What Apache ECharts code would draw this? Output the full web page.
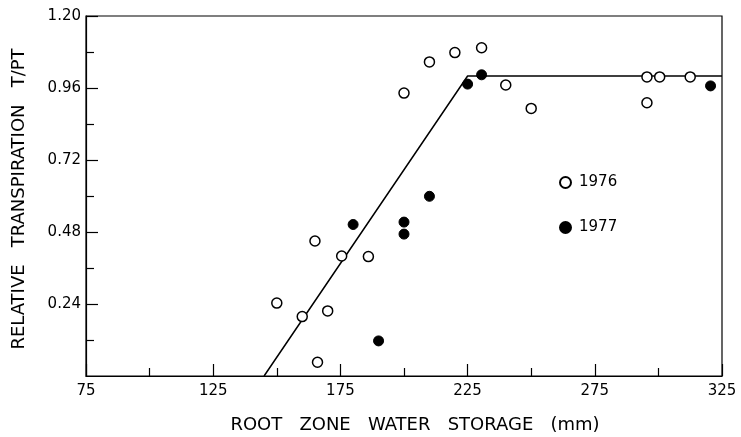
<!DOCTYPE html>
<html>
<head>
<meta charset="utf-8">
<script src="https://cdn.jsdelivr.net/npm/echarts@6/dist/echarts.min.js"></script>
<style>html,body{margin:0;padding:0;background:#fff}#c{width:741px;height:437px}</style>
</head>
<body>
<div id="c"></div>
<script>
var xLabels = [75, 125, 175, 225, 275, 325];
var xMinorTicks = [100, 150, 200, 250, 300];
var yLabels = [0.24, 0.48, 0.72, 0.96, 1.20];
var yMinorTicks = [0.12, 0.36, 0.60, 0.84, 1.08];

var data1976 = [
  [150, 0.243], [160, 0.198], [165, 0.450], [166, 0.046], [170, 0.217],
  [175.5, 0.400], [186, 0.398], [200, 0.943], [210, 1.047], [220, 1.078],
  [230.5, 1.094], [240, 0.970], [250, 0.892], [295.5, 0.997], [300.5, 0.997],
  [312.5, 0.997], [295.5, 0.911]
];
var data1977 = [
  [180, 0.505], [190, 0.117], [200, 0.513], [200, 0.473], [210, 0.599],
  [225, 0.973], [230.5, 1.004], [320.5, 0.967]
];
var fitLine = [[145, 0], [225, 1.0], [325, 1.0]];

var font = 'DejaVu Sans';
var chart = echarts.init(document.getElementById('c'));
chart.setOption({
  animation: false,
  backgroundColor: '#fff',
  grid: { left: 86, right: 19, top: 16, bottom: 61, outerBoundsMode: 'none', containLabel: false,
    show: true, borderColor: '#000', borderWidth: 1.2, backgroundColor: 'transparent' },
  legend: {
    orient: 'vertical', left: 559, top: 175, padding: 0, itemGap: 30, itemWidth: 11, itemHeight: 11,
    data: ['1976', '1977'],
    textStyle: { color: '#000', fontFamily: font, fontSize: 15, padding: [0, 0, 0, 3] }
  },
  xAxis: [{
    type: 'value', min: 75, max: 325, interval: 25,
    name: 'ROOT   ZONE   WATER   STORAGE   (mm)', nameLocation: 'middle', nameGap: 40,
    nameTextStyle: { color: '#000', fontFamily: font, fontSize: 18, padding: [0, 0, 0, 22] },
    axisLine: { show: true, lineStyle: { color: '#000', width: 1.2 } },
    axisTick: { show: true, inside: true, length: 12, customValues: xLabels, lineStyle: { color: '#000', width: 1.2 } },
    axisLabel: { customValues: xLabels, color: '#000', fontFamily: font, fontSize: 15, margin: 8 },
    splitLine: { show: false }
  }, {
    type: 'value', min: 75, max: 325, interval: 25, position: 'bottom',
    axisLine: { show: false },
    axisTick: { show: true, inside: true, length: 8, customValues: xMinorTicks, lineStyle: { color: '#000', width: 1.2 } },
    axisLabel: { show: false },
    splitLine: { show: false }
  }],
  yAxis: [{
    type: 'value', min: 0, max: 1.2, interval: 0.12,
    name: 'RELATIVE   TRANSPIRATION   T/PT', nameLocation: 'middle', nameGap: 58, nameRotate: 90,
    nameTextStyle: { color: '#000', fontFamily: font, fontSize: 18, padding: [0, 6, 0, 0] },
    axisLine: { show: true, lineStyle: { color: '#000', width: 1.2 } },
    axisTick: { show: true, inside: true, length: 12, customValues: yLabels, lineStyle: { color: '#000', width: 1.2 } },
    axisLabel: { customValues: yLabels, color: '#000', fontFamily: font, fontSize: 15, margin: 5,
      formatter: function (v) { return v.toFixed(2); } },
    splitLine: { show: false }
  }, {
    type: 'value', min: 0, max: 1.2, interval: 0.12, position: 'left',
    axisLine: { show: false },
    axisTick: { show: true, inside: true, length: 8, customValues: yMinorTicks, lineStyle: { color: '#000', width: 1.2 } },
    axisLabel: { show: false },
    splitLine: { show: false }
  }],
  series: [{
    name: 'fit', type: 'line', data: fitLine, showSymbol: false, symbol: 'none',
    lineStyle: { color: '#000', width: 1.5 }, z: 2, silent: true
  }, {
    name: '1976', type: 'scatter', data: data1976, symbol: 'circle', symbolSize: 10,
    itemStyle: { color: '#fff', borderColor: '#000', borderWidth: 1.5, opacity: 1 }, z: 3
  }, {
    name: '1977', type: 'scatter', data: data1977, symbol: 'circle', symbolSize: 10,
    itemStyle: { color: '#000', borderColor: '#000', borderWidth: 1, opacity: 1 }, z: 4
  }]
});
</script>
</body>
</html>
